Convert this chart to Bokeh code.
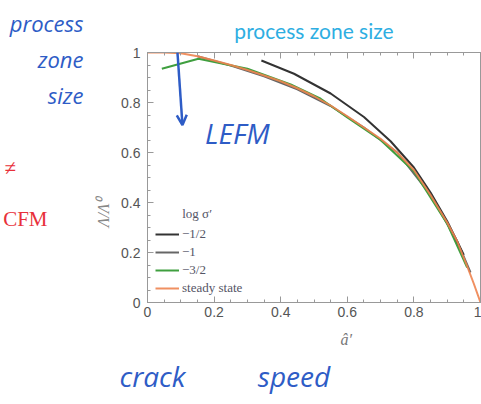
import math
from bokeh.plotting import figure
from bokeh.models import (Range1d, LinearAxis, Label, Legend, LegendItem,
                          Arrow, OpenHead, FixedTicker)
from bokeh.embed import file_html
from bokeh.resources import INLINE

# ---- data ----
x_ticks = [0, 0.2, 0.4, 0.6, 0.8, 1.0]
y_ticks = [0, 0.2, 0.4, 0.6, 0.8, 1.0]
x_tick_labels = ["0", "0.2", "0.4", "0.6", "0.8", "1"]
y_tick_labels = ["0", "0.2", "0.4", "0.6", "0.8", "1"]

steady_a = [0, 0.05, 0.1, 0.15, 0.2, 0.25, 0.3, 0.35, 0.4, 0.45, 0.5, 0.55, 0.6,
            0.65, 0.7, 0.75, 0.8, 0.85, 0.9, 0.93, 0.96, 0.98, 1.0]
steady_y = [1.0, 1.0, 0.997, 0.985, 0.968, 0.95, 0.93, 0.908, 0.885, 0.857, 0.825,
            0.788, 0.745, 0.70, 0.655, 0.60, 0.53, 0.43, 0.32, 0.245, 0.145, 0.075, 0.0]

green_a = [0.043, 0.153, 0.30, 0.43, 0.52, 0.6, 0.7, 0.8, 0.9, 0.96]
green_y = [0.935, 0.975, 0.935, 0.872, 0.815, 0.74, 0.65, 0.525, 0.315, 0.14]

gray_a = [0.15, 0.25, 0.35, 0.45, 0.55, 0.65, 0.75, 0.85, 0.93, 0.97]
gray_y = [0.985, 0.948, 0.905, 0.853, 0.786, 0.70, 0.60, 0.43, 0.245, 0.12]

black_a = [0.342, 0.44, 0.55, 0.65, 0.73, 0.8, 0.85, 0.9, 0.95]
black_y = [0.968, 0.915, 0.836, 0.742, 0.645, 0.54, 0.44, 0.325, 0.19]

series_labels = ["\u22121/2", "\u22121", "\u22123/2", "steady state"]
legend_title = "log \u03c3\u2032"
title_text = "process zone size"
x_label = "\u00e2\u2032"
y_label = "\u039b/\u039b\u2070"

# texts placed on label-only axes: (value on axis, text)
x_label_item = [(0.597, x_label)]
y_label_item = [(0.42, y_label)]
notes_left = [(0.976, "process\nzone\nsize")]
notes_below = [(0.015, "crack"), (0.44, "speed")]
slide_left = [(0.54, "\u2260\u2003\u2002"), (0.336, "CFM")]
note_lefm = (0.27, 0.68, "LEFM")
arrow_down = (0.09, 1.0, 0.105, 0.71)

HAND = "#2e5cc6"
AX = "#999999"

# ---- figure ----
p = figure(width=481, height=404, output_backend="svg", toolbar_location=None,
           x_range=Range1d(0, 1.0), y_range=Range1d(0, 1),
           min_border_left=145, min_border_right=1, min_border_top=52,
           min_border_bottom=102)
p.grid.visible = False
p.outline_line_color = AX
p.background_fill_color = "white"
p.border_fill_color = "white"

p.title.text = title_text
p.title.align = "center"
p.title.text_font = "Lato"
p.title.text_font_size = "21px"
p.title.text_font_style = "normal"
p.title.text_color = "#2eaee2"
p.title.standoff = 20

minor = [i * 0.05 for i in range(21)]
for ax, ticks, labels in ((p.xaxis[0], x_ticks, x_tick_labels),
                          (p.yaxis[0], y_ticks, y_tick_labels)):
    ax.ticker = FixedTicker(ticks=ticks, minor_ticks=minor)
    ax.major_label_overrides = {t: l for t, l in zip(ticks, labels)}
    ax.major_tick_in = 6
    ax.major_tick_out = 0
    ax.minor_tick_in = 3
    ax.minor_tick_out = 0
    ax.axis_line_color = AX
    ax.major_tick_line_color = AX
    ax.minor_tick_line_color = AX
    ax.major_label_text_font = "Liberation Sans"
    ax.major_label_text_font_size = "14px"
    ax.major_label_text_color = "#555555"
p.xaxis[0].major_label_standoff = 4
p.yaxis[0].major_label_standoff = 7

top = LinearAxis(ticker=FixedTicker(ticks=x_ticks, minor_ticks=minor),
                 major_label_text_font_size="0px", major_tick_in=6,
                 major_tick_out=0, minor_tick_in=3, minor_tick_out=0,
                 axis_line_color=AX, major_tick_line_color=AX,
                 minor_tick_line_color=AX, major_label_standoff=0)
p.add_layout(top, "above")


def text_axis(items, standoff, font, size, color, style="normal", **kw):
    ticks = [v for v, _ in items]
    return LinearAxis(ticker=FixedTicker(ticks=ticks, minor_ticks=[]),
                      major_label_overrides={v: t for v, t in items},
                      axis_line_color=None, major_tick_line_color=None,
                      minor_tick_line_color=None, major_tick_in=0,
                      major_tick_out=0, minor_tick_in=0, minor_tick_out=0,
                      major_label_standoff=standoff,
                      major_label_text_font=font,
                      major_label_text_font_style=style,
                      major_label_text_font_size=size,
                      major_label_text_color=color, **kw)


# below: x label, then handwritten "crack speed"
p.add_layout(text_axis(x_label_item, 11, "Liberation Serif", "16px",
                       "#777777", "italic"), "below")
p.add_layout(text_axis(notes_below, 6, "Open Sans", "28px", HAND, "italic"),
             "below")
# left: y label, handwritten "process zone size", then the red slide text
p.add_layout(text_axis(y_label_item, 15, "Liberation Serif", "16px",
                       "#888888", "italic",
                       major_label_orientation=math.pi / 2), "left")
p.add_layout(text_axis(notes_left, 0, "Open Sans", "22px", HAND, "italic"),
             "left")
p.add_layout(text_axis(slide_left, -41, "Liberation Serif", "21px",
                       "#e8303a"), "left")

r_gray = p.line(gray_a, gray_y, line_color="#666666", line_width=2)
r_green = p.line(green_a, green_y, line_color="#3f9f3f", line_width=2)
r_black = p.line(black_a, black_y, line_color="#333333", line_width=2)
r_orange = p.line(steady_a, steady_y, line_color="#ee8450", line_width=2,
                  line_alpha=0.9)

legend = Legend(items=[LegendItem(label=series_labels[0], renderers=[r_black]),
                       LegendItem(label=series_labels[1], renderers=[r_gray]),
                       LegendItem(label=series_labels[2], renderers=[r_green]),
                       LegendItem(label=series_labels[3], renderers=[r_orange])],
                location=(8, 5), padding=0, margin=0, spacing=0,
                glyph_width=24, glyph_height=18, label_height=18,
                label_standoff=3, label_text_font="Liberation Serif",
                label_text_font_size="13px", label_text_color="#555566",
                border_line_alpha=0, background_fill_alpha=0)
p.add_layout(legend)

p.add_layout(Label(x=0.149, y=0.356, text=legend_title, text_align="center",
                   text_baseline="middle", text_font="Liberation Serif",
                   text_font_size="13px", text_color="#555566"))

p.add_layout(Label(x=note_lefm[0], y=note_lefm[1], text=note_lefm[2],
                   text_align="center", text_baseline="middle",
                   text_font="Open Sans", text_font_style="italic",
                   text_font_size="28px", text_color=HAND))
xs, ys, xe, ye = arrow_down
p.add_layout(Arrow(x_start=xs, y_start=ys, x_end=xe, y_end=ye,
                   line_color=HAND, line_width=2.5,
                   end=OpenHead(size=10, line_color=HAND, line_width=2.5)))

open("out.html", "w").write(file_html(p, INLINE))
